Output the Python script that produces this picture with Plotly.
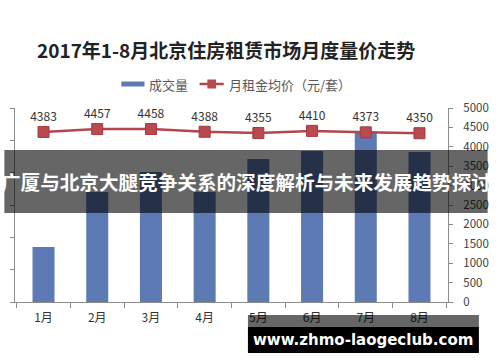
import plotly.graph_objects as go

months = ["1月", "2月", "3月", "4月", "5月", "6月", "7月", "8月"]
volume = [1700, 3400, 4020, 3400, 4420, 4670, 5270, 4640]
rent = [4383, 4457, 4458, 4388, 4355, 4410, 4373, 4350]
right_ticks = [0, 500, 1000, 1500, 2000, 2500, 3000, 3500, 4000, 4500, 5000]

title_text = "2017年1-8月北京住房租赁市场月度量价走势"
bar_name = "成交量"
line_name = "月租金均价（元/套）"
banner_text = "广厦与北京大腿竞争关系的深度解析与未来发展趋势探讨"
watermark_text = "www.zhmo-laogeclub.com"

W, H = 500, 362
L, R, T, B = 11, 459, 108, 302

def px(p):
    return (p - L) / (R - L)

def py(p):
    return (B - p) / (B - T)

FONT = "Noto Sans CJK SC, Noto Sans, sans-serif"
BAR_C = "#5E7AB4"
LINE_C = "#B3464C"
AX_C = "#8C8C8C"

fig = go.Figure()
fig.add_trace(go.Bar(
    x=months, y=volume, name=bar_name, marker=dict(color=BAR_C, line=dict(width=0)),
    yaxis="y", showlegend=False,
))
fig.add_trace(go.Scatter(
    x=months, y=rent, name=line_name, yaxis="y2", mode="lines+markers+text",
    line=dict(color=LINE_C, width=2.5),
    marker=dict(symbol="square", size=11, color="#B94A50", line=dict(color="#A8383E", width=1)),
    text=[str(v) for v in rent], textposition="top center",
    textfont=dict(family=FONT, size=12, color="#333333"),
    cliponaxis=False, showlegend=False,
))

shapes = []
annotations = []

# manual legend
shapes.append(dict(type="rect", xref="paper", yref="paper", x0=px(121), x1=px(145), y0=py(86.5), y1=py(81.5),
                   fillcolor=BAR_C, line=dict(width=0)))
shapes.append(dict(type="line", xref="paper", yref="paper", x0=px(202), x1=px(227), y0=py(84), y1=py(84),
                   line=dict(color=LINE_C, width=2.5)))
shapes.append(dict(type="rect", xref="paper", yref="paper", x0=px(210), x1=px(219), y0=py(88.5), y1=py(79.5),
                   fillcolor="#B94A50", line=dict(width=0)))
annotations.append(dict(xref="paper", yref="paper", x=px(148), y=py(84), text=bar_name, showarrow=False,
                        xanchor="left", yanchor="middle", font=dict(family=FONT, size=13, color="#595959")))
annotations.append(dict(xref="paper", yref="paper", x=px(230), y=py(84), text=line_name, showarrow=False,
                        xanchor="left", yanchor="middle", font=dict(family=FONT, size=13, color="#595959")))

# title
annotations.append(dict(xref="paper", yref="paper", x=px(229.5), y=py(50), text="<b>" + title_text + "</b>",
                        showarrow=False, xanchor="center", yanchor="middle",
                        font=dict(family=FONT, size=19, color="#222222")))

# banner overlay
shapes.append(dict(type="rect", xref="paper", yref="paper", x0=px(0), x1=px(500), y0=py(213), y1=py(150),
                   fillcolor="rgba(0,0,0,0.6)", line=dict(width=0), layer="above"))
annotations.append(dict(xref="paper", yref="paper", x=px(250), y=py(181.5), text="<b>" + banner_text + "</b>",
                        showarrow=False, xanchor="center", yanchor="middle",
                        font=dict(family=FONT, size=19.6, color="#FFFFFF")))

# watermark
shapes.append(dict(type="rect", xref="paper", yref="paper", x0=px(252), x1=px(491), y0=py(327), y1=py(315),
                   fillcolor="rgba(0,0,0,0.6)", line=dict(width=0), layer="above"))
shapes.append(dict(type="rect", xref="paper", yref="paper", x0=px(252), x1=px(491), y0=py(353), y1=py(327),
                   fillcolor="#000000", line=dict(width=0), layer="above"))
annotations.append(dict(xref="paper", yref="paper", x=px(371), y=py(340), text="<b>" + watermark_text + "</b>",
                        showarrow=False, xanchor="center", yanchor="middle",
                        font=dict(family="DejaVu Sans, sans-serif", size=15, color="#FFFFFF")))

fig.update_layout(
    width=W, height=H,
    margin=dict(l=L, r=W - R, t=T, b=H - B, pad=0),
    paper_bgcolor="white", plot_bgcolor="white",
    bargap=0.59,
    showlegend=False,
    font=dict(family=FONT, size=12, color="#333333"),
    xaxis=dict(
        type="category", showgrid=False, showline=True, linecolor=AX_C, linewidth=1,
        ticks="outside", ticklen=5, tickcolor=AX_C, tickson="boundaries",
        tickfont=dict(family=FONT, size=12, color="#333333"), ticklabelstandoff=5,
        zeroline=False,
    ),
    yaxis=dict(
        range=[0, 6000], dtick=1000, showgrid=False, showline=True, linecolor=AX_C, linewidth=1,
        ticks="outside", ticklen=4, tickcolor=AX_C, showticklabels=False, zeroline=False,
    ),
    yaxis2=dict(
        range=[0, 5000], tickvals=right_ticks, overlaying="y", side="right", showgrid=False,
        showline=True, linecolor=AX_C, linewidth=1, ticks="outside", ticklen=4, tickcolor=AX_C,
        tickfont=dict(family=FONT, size=11.5, color="#404040"), ticklabelstandoff=8, zeroline=False,
    ),
    shapes=shapes,
    annotations=annotations,
)

fig.write_html("out.html", config={"displayModeBar": False},
               post_script="document.body.style.margin='0';document.body.style.overflow='hidden';")
